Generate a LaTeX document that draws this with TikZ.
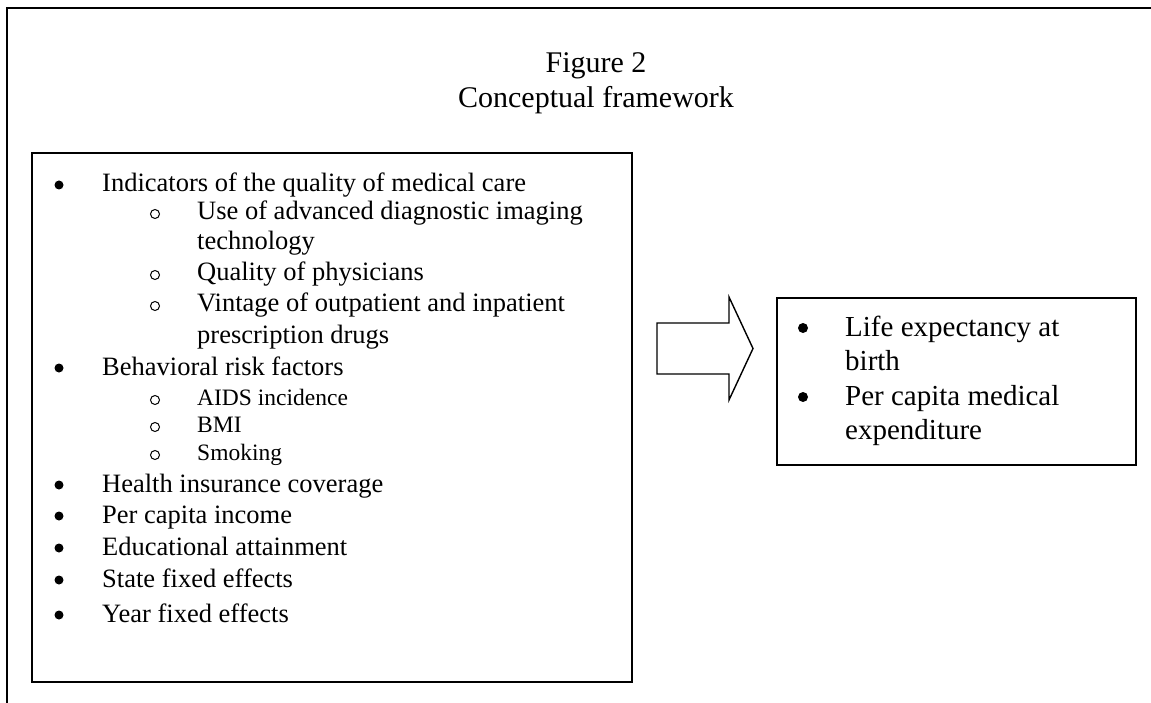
\documentclass[tikz,border=0pt]{standalone}
\usepackage{fontspec}
\setmainfont{Liberation Serif}
\begin{document}
\begin{tikzpicture}[x=1pt,y=-1pt,
  frame/.style={line width=2pt},
  box/.style={draw, line width=1.4pt, inner sep=0pt},
  ttl/.style={anchor=base, inner sep=0pt, font=\fontsize{30}{34}\selectfont},
  main/.style={anchor=base west, inner sep=0pt, font=\fontsize{26.5}{30}\selectfont},
  sub/.style={anchor=base west, inner sep=0pt, font=\fontsize{23.5}{27}\selectfont},
  big/.style={anchor=base west, inner sep=0pt, font=\fontsize{29}{33}\selectfont},
  dot/.style={circle, fill=black, inner sep=0pt, minimum size=9pt},
  ring/.style={circle, draw=black, line width=1pt, inner sep=0pt, minimum size=9pt},
  blockarrow/.style={draw, line width=1.4pt, line join=miter}
]
\useasboundingbox (0,0) rectangle (1151,703);

% outer frame (top and left edges)
\coordinate (fr) at (1151,8);
\coordinate (fc) at (7,8);
\coordinate (fb) at (7,703);
\draw[frame] (fr) -- (fc) -- (fb);

% title
\node[ttl] (t1) at (596,73) {Figure 2};
\node[ttl] (t2) at (596,108) {Conceptual framework};

% left box
\node[box, minimum width=600pt, minimum height=529pt] (lbox) at (332,417.5) {};

\node[dot] (b1) at (59,185) {};
\node[main] (l1) at (102,192) {Indicators of the quality of medical care};
\node[ring] (r1) at (155,214) {};
\node[main] (l2) at (197,220) {Use of advanced diagnostic imaging};
\node[main] (l3) at (197,250) {technology};
\node[ring] (r2) at (155,275) {};
\node[main] (l4) at (197,281) {Quality of physicians};
\node[ring] (r3) at (155,306) {};
\node[main] (l5) at (197,312) {Vintage of outpatient and inpatient};
\node[main] (l6) at (197,343) {prescription drugs};
\node[dot] (b2) at (59,368) {};
\node[main] (l7) at (102,375) {Behavioral risk factors};
\node[ring] (r4) at (155,400) {};
\node[sub] (l8) at (197,405) {AIDS incidence};
\node[ring] (r5) at (155,427) {};
\node[sub] (l9) at (197,432) {BMI};
\node[ring] (r6) at (155,455) {};
\node[sub] (l10) at (197,460) {Smoking};
\node[dot] (b3) at (59,485) {};
\node[main] (l11) at (102,492) {Health insurance coverage};
\node[dot] (b4) at (59,516) {};
\node[main] (l12) at (102,523) {Per capita income};
\node[dot] (b5) at (59,548) {};
\node[main] (l13) at (102,555) {Educational attainment};
\node[dot] (b6) at (59,580) {};
\node[main] (l14) at (102,587) {State fixed effects};
\node[dot] (b7) at (59,615) {};
\node[main] (l15) at (102,622) {Year fixed effects};

% block arrow between the boxes
\coordinate (a1) at (657,323);
\coordinate (a2) at (729,323);
\coordinate (a3) at (729,297);
\coordinate (a4) at (753,348.5);
\coordinate (a5) at (729,400);
\coordinate (a6) at (729,374);
\coordinate (a7) at (657,374);
\draw[blockarrow] (a1) -- (a2) -- (a3) -- (a4) -- (a5) -- (a6) -- (a7) -- cycle;

% right box
\node[box, minimum width=359pt, minimum height=167pt] (rbox) at (956.5,381.5) {};
\node[dot, minimum size=10pt] (c1) at (803,328) {};
\node[big] (m1) at (845,336) {Life expectancy at};
\node[big] (m2) at (845,370) {birth};
\node[dot, minimum size=10pt] (c2) at (803,397) {};
\node[big] (m3) at (845,405) {Per capita medical};
\node[big] (m4) at (845,439) {expenditure};
\end{tikzpicture}
\end{document}
